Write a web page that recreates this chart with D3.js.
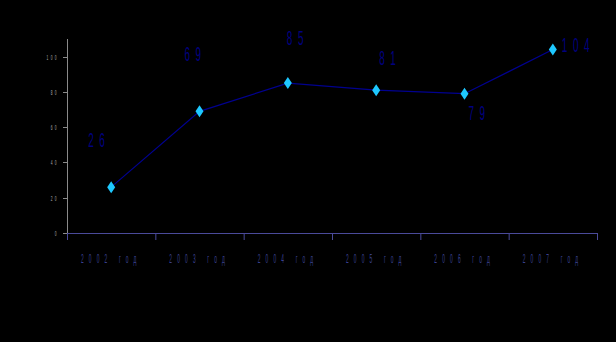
<!DOCTYPE html>
<meta charset="utf-8">
<style>
  body { margin: 0; background: #000; }
  svg { display: block; background: #000; }
  text { font-family: "Liberation Sans", Arial, sans-serif; }
</style>
<svg class="chart" width="616" height="342"></svg>
<script src="https://d3js.org/d3.v7.min.js"></script>
<script>
  // data
  var years = ["2002 год", "2003 год", "2004 год", "2005 год", "2006 год", "2007 год"];
  var values = [26, 69, 85, 81, 79, 104];
  var yTicks = [0, 20, 40, 60, 80, 100];

  // hand-placed value labels (offset from the point, left/baseline)
  var labelOffsets = [[-23, -40], [-15, -50], [-1, -38], [3, -25], [4, 26], [9, 2]];

  var svg = d3.select(".chart");

  var x = d3.scaleBand()
      .domain(years)
      .range([67, 597])
      .padding(0);

  var y = d3.scaleLinear()
      .domain([0, 110])
      .range([233, 39]);

  // y axis
  svg.append("line")
      .attr("x1", 67.5).attr("x2", 67.5)
      .attr("y1", 39).attr("y2", 240)
      .attr("stroke", "#8a8a8a");

  var yt = svg.append("g").selectAll("g")
      .data(yTicks)
      .enter().append("g");
  yt.append("line")
      .attr("x1", 63).attr("x2", 67)
      .attr("y1", function(d) { return Math.round(y(d)) + 0.5; })
      .attr("y2", function(d) { return Math.round(y(d)) + 0.5; })
      .attr("stroke", "#8a8a8a");
  yt.append("text")
      .attr("transform", function(d) { return "translate(59," + (y(d) + 3) + ") scale(0.4,1)"; })
      .attr("text-anchor", "end")
      .attr("font-size", 8)
      .attr("letter-spacing", 6)
      .attr("fill", "#b0b0b0")
      .text(function(d) { return d; });

  // x axis
  svg.append("line")
      .attr("x1", 67).attr("x2", 597)
      .attr("y1", 233.5).attr("y2", 233.5)
      .attr("stroke", "#4a4a9a");

  var ticksX = years.map(function(d) { return x(d); }).concat([x.range()[1]]);
  svg.append("g").selectAll("line")
      .data(ticksX)
      .enter().append("line")
      .attr("x1", function(d) { return d + 0.5; })
      .attr("x2", function(d) { return d + 0.5; })
      .attr("y1", 233).attr("y2", 240)
      .attr("stroke", "#4a4a9a");

  svg.append("g").selectAll("text")
      .data(years)
      .enter().append("text")
      .attr("transform", function(d) { return "translate(" + (x(d) + 14) + ",263) scale(0.4,1)"; })
      .attr("font-size", 12)
      .attr("letter-spacing", 13)
      .attr("fill", "#3a4090")
      .text(function(d) { return d; });

  // line
  var cx = function(d, i) { return x(years[i]) + x.bandwidth() / 2; };

  var line = d3.line()
      .x(function(d, i) { return cx(d, i); })
      .y(function(d) { return y(d); });

  svg.append("path")
      .datum(values)
      .attr("fill", "none")
      .attr("stroke", "#000090")
      .attr("stroke-width", 1.2)
      .attr("d", line);

  // markers
  svg.append("g").selectAll("path")
      .data(values)
      .enter().append("path")
      .attr("transform", function(d, i) { return "translate(" + cx(d, i) + "," + y(d) + ")"; })
      .attr("d", "M0,-6L4,0L0,6L-4,0Z")
      .attr("fill", "#1ec8ff");

  // value labels
  svg.append("g").selectAll("text")
      .data(values)
      .enter().append("text")
      .attr("transform", function(d, i) {
        return "translate(" + (cx(d, i) + labelOffsets[i][0]) + "," + (y(d) + labelOffsets[i][1]) + ") scale(0.5,1)";
      })
      .attr("font-size", 20)
      .attr("letter-spacing", 11)
      .attr("fill", "#000080")
      .text(function(d) { return d; });
</script>
